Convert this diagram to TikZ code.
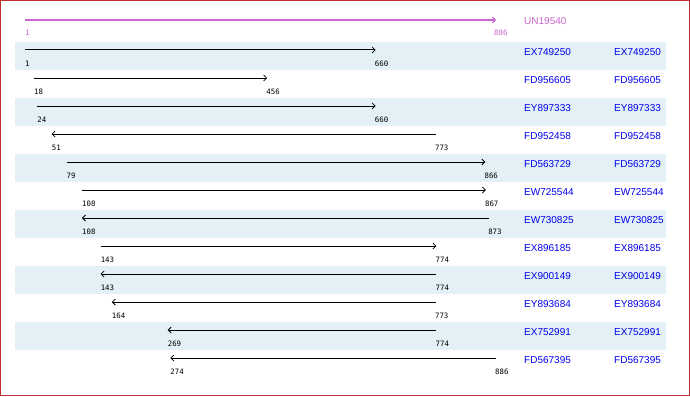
\documentclass[tikz,border=0pt]{standalone}
\usepackage{fontspec}
\setmainfont{Liberation Sans}
\newfontfamily\monof{DejaVu Sans Mono}
\usetikzlibrary{arrows.meta}
\definecolor{rowshade}{HTML}{E3F0F5}
\definecolor{mag}{HTML}{CC66CC}
\definecolor{framered}{HTML}{C03030}
\definecolor{nameblue}{HTML}{0000EE}
\tikzset{
  namelbl/.style={anchor=west,inner sep=0pt,font=\fontsize{10}{12}\selectfont,text=nameblue},
  numlbl/.style={anchor=west,inner sep=0pt,font=\monof\fontsize{7.4}{9}\selectfont},
  hitline/.style={line width=1pt,black},
  tipr/.style={-{Straight Barb[length=3pt,width=6pt,line width=0.8pt]}},
  tipl/.style={{Straight Barb[length=3pt,width=6pt,line width=0.8pt]}-},
}
\begin{document}
\begin{tikzpicture}[x=1pt,y=-1pt]
\useasboundingbox (0,0) rectangle (690,396);
\fill[white] (0,0) rectangle (690,396);
% shaded rows
\foreach \i in {1,3,5,7,9,11} {
  \fill[rowshade] (15,{42+(\i-1)*28}) rectangle (666,{70+(\i-1)*28});
}
% query
\coordinate (q1) at (25,20);
\coordinate (q2) at (496,20);
\draw[mag,line width=2pt,-{Straight Barb[length=3pt,width=6pt,line width=1pt]}] (q1) -- (q2);
\node[numlbl,text=mag] (qs) at (25,33) {1};
\node[numlbl,text=mag] (qe) at (494,33) {886};
\node[namelbl,text=mag] (qn) at (524,21) {UN19540};
% hits
\foreach \i/\s/\e/\d/\n in {
 1/1/660/r/EX749250,
 2/18/456/r/FD956605,
 3/24/660/r/EY897333,
 4/51/773/l/FD952458,
 5/79/866/r/FD563729,
 6/108/867/r/EW725544,
 7/108/873/l/EW730825,
 8/143/774/r/EX896185,
 9/143/774/l/EX900149,
 10/164/773/l/EY893684,
 11/269/774/l/EX752991,
 12/274/886/l/FD567395} {
  \pgfmathsetmacro{\rowtop}{42+(\i-1)*28}
  \pgfmathsetmacro{\xs}{25+(\s-1)*0.5322}
  \pgfmathsetmacro{\xe}{25+(\e-1)*0.5322}
  \coordinate (a\i) at (\xs,\rowtop+8);
  \coordinate (b\i) at (\xe,\rowtop+8);
  \if\d r
    \draw[hitline,tipr] (a\i) -- (b\i);
  \else
    \draw[hitline,tipl] (a\i) -- (b\i);
  \fi
  \node[numlbl] (ls\i) at (\xs,\rowtop+22) {\s};
  \node[numlbl] (le\i) at (\xe-1,\rowtop+22) {\e};
  \node[namelbl] (n\i) at (524,\rowtop+10) {\n};
  \node[namelbl] (m\i) at (614,\rowtop+10) {\n};
}
% frame
\draw[framered,line width=1.2pt] (0.6,0.6) rectangle (689.4,395.4);
\end{tikzpicture}
\end{document}
